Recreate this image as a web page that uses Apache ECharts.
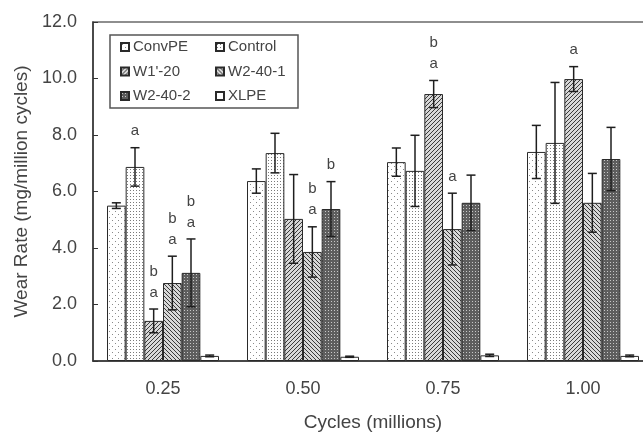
<html>
    <head>
        <meta charset="utf-8">
        <script src="https://cdn.jsdelivr.net/npm/echarts@6/dist/echarts.min.js"></script>
        <style>
            html, body { margin: 0; padding: 0; background: #fff; }
            #main { width: 643px; height: 433px; }
        </style>
    </head>
    <body>
        <div id="main"></div>
        <script>
            var categories = ['0.25', '0.50', '0.75', '1.00'];
            var seriesNames = ['ConvPE', 'Control', "W1'-20", 'W2-40-1', 'W2-40-2', 'XLPE'];

            var convPE = [5.50, 6.37, 7.04, 7.40];
            var control = [6.87, 7.36, 6.73, 7.72];
            var w120 = [1.42, 5.03, 9.45, 9.98];
            var w2401 = [2.76, 3.86, 4.67, 5.60];
            var w2402 = [3.12, 5.38, 5.60, 7.15];
            var xlpe = [0.18, 0.15, 0.20, 0.18];

            var convPEErr = [0.10, 0.43, 0.50, 0.94];
            var controlErr = [0.68, 0.70, 1.26, 2.14];
            var w120Err = [0.42, 1.57, 0.48, 0.44];
            var w2401Err = [0.95, 0.89, 1.27, 1.04];
            var w2402Err = [1.20, 0.97, 0.98, 1.12];
            var xlpeErr = [0.03, 0.02, 0.04, 0.03];

            // significance letters above the error bars
            var convPELetters = ['', '', '', ''];
            var controlLetters = ['a', '', '', ''];
            var w120Letters = ['b\na', '', 'b\na', 'a'];
            var w2401Letters = ['b\na', 'b\na', 'a', ''];
            var w2402Letters = ['b\na', 'b', '', ''];
            var xlpeLetters = ['', '', '', ''];

            var values = [convPE, control, w120, w2401, w2402, xlpe];
            var errors = [convPEErr, controlErr, w120Err, w2401Err, w2402Err, xlpeErr];
            var letters = [convPELetters, controlLetters, w120Letters, w2401Letters, w2402Letters, xlpeLetters];

            var FONT = '"Liberation Sans", Arial, sans-serif';

            function makePattern(kind) {
                var c = document.createElement('canvas');
                var ctx = c.getContext('2d');
                if (kind === 'sparseDots') {
                    c.width = 6; c.height = 6;
                    ctx.fillStyle = '#fff'; ctx.fillRect(0, 0, 6, 6);
                    ctx.fillStyle = '#8a8a8a';
                    ctx.fillRect(1, 1, 1, 1); ctx.fillRect(4, 4, 1, 1);
                } else if (kind === 'denseDots') {
                    c.width = 3; c.height = 3;
                    ctx.fillStyle = '#fff'; ctx.fillRect(0, 0, 3, 3);
                    ctx.fillStyle = '#7a7a7a';
                    ctx.fillRect(1, 1, 1, 1);
                } else if (kind === 'slash' || kind === 'backslash') {
                    c.width = 4; c.height = 4;
                    ctx.fillStyle = '#d8d8d8'; ctx.fillRect(0, 0, 4, 4);
                    ctx.strokeStyle = '#3a3a3a'; ctx.lineWidth = 1;
                    ctx.beginPath();
                    if (kind === 'slash') {
                        ctx.moveTo(-1, 5); ctx.lineTo(5, -1);
                        ctx.moveTo(-1, 1); ctx.lineTo(1, -1);
                        ctx.moveTo(3, 5); ctx.lineTo(5, 3);
                    } else {
                        ctx.moveTo(-1, -1); ctx.lineTo(5, 5);
                        ctx.moveTo(3, -1); ctx.lineTo(5, 1);
                        ctx.moveTo(-1, 3); ctx.lineTo(1, 5);
                    }
                    ctx.stroke();
                } else if (kind === 'checker') {
                    c.width = 3; c.height = 3;
                    ctx.fillStyle = '#5e5e5e'; ctx.fillRect(0, 0, 3, 3);
                    ctx.fillStyle = '#c8c8c8';
                    ctx.fillRect(1, 1, 1, 1);
                } else {
                    c.width = 2; c.height = 2;
                    ctx.fillStyle = '#fff'; ctx.fillRect(0, 0, 2, 2);
                }
                return { image: c, repeat: 'repeat' };
            }

            var patterns = ['sparseDots', 'denseDots', 'slash', 'backslash', 'checker', 'plain'];

            var barCount = seriesNames.length;
            var series = [];

            seriesNames.forEach(function (name, k) {
                series.push({
                    name: name,
                    type: 'bar',
                    data: values[k],
                    barGap: 0,
                    barCategoryGap: '20%',
                    itemStyle: {
                        color: makePattern(patterns[k]),
                        borderColor: '#2a2a2a',
                        borderWidth: 1
                    }
                });
            });

            seriesNames.forEach(function (name, k) {
                series.push({
                    type: 'custom',
                    z: 5,
                    silent: true,
                    data: values[k].map(function (v, i) {
                        return [i, v - errors[k][i], v + errors[k][i]];
                    }),
                    renderItem: function (params, api) {
                        var i = api.value(0);
                        var band = api.size([1, 0])[0];
                        var barW = band * 0.8 / barCount;
                        var dx = -band * 0.4 + (k + 0.5) * barW;
                        var lo = api.coord([i, api.value(1)]);
                        var hi = api.coord([i, api.value(2)]);
                        var x = lo[0] + dx;
                        var cap = 4.5;
                        var style = { stroke: '#1e1e1e', lineWidth: 1.5 };
                        var children = [
                            { type: 'line', shape: { x1: x, y1: lo[1], x2: x, y2: hi[1] }, style: style },
                            { type: 'line', shape: { x1: x - cap, y1: hi[1], x2: x + cap, y2: hi[1] }, style: style },
                            { type: 'line', shape: { x1: x - cap, y1: lo[1], x2: x + cap, y2: lo[1] }, style: style }
                        ];
                        var txt = letters[k][params.dataIndex];
                        if (txt) {
                            children.push({
                                type: 'text',
                                style: {
                                    text: txt,
                                    x: x,
                                    y: hi[1] - 6,
                                    align: 'center',
                                    verticalAlign: 'bottom',
                                    font: '15px ' + FONT,
                                    lineHeight: 21,
                                    fill: '#444'
                                }
                            });
                        }
                        return { type: 'group', children: children };
                    }
                });
            });

            var chart = echarts.init(document.getElementById('main'), null, { renderer: 'canvas' });

            chart.setOption({
                animation: false,
                grid: {
                    left: 93,
                    right: -10,
                    top: 22,
                    bottom: 72,
                    outerBoundsMode: 'none',
                    containLabel: false,
                    show: true,
                    borderColor: '#6a6a6a',
                    borderWidth: 1.5,
                    backgroundColor: 'transparent'
                },
                legend: [{
                    orient: 'vertical',
                    left: 120,
                    top: 39,
                    padding: 0,
                    itemGap: 8.5,
                    itemWidth: 8,
                    itemHeight: 8,
                    icon: 'rect',
                    data: ['ConvPE', "W1'-20", 'W2-40-2'],
                    textStyle: { fontFamily: FONT, fontSize: 15, color: '#444', lineHeight: 16, padding: [0, 0, 0, -1] }
                }, {
                    orient: 'vertical',
                    left: 215,
                    top: 39,
                    padding: 0,
                    itemGap: 8.5,
                    itemWidth: 8,
                    itemHeight: 8,
                    icon: 'rect',
                    data: ['Control', 'W2-40-1', 'XLPE'],
                    textStyle: { fontFamily: FONT, fontSize: 15, color: '#444', lineHeight: 16, padding: [0, 0, 0, -1] }
                }],
                graphic: [{
                    type: 'rect',
                    shape: { x: 110, y: 35, width: 188, height: 73 },
                    style: { fill: 'none', stroke: '#555', lineWidth: 1.5 },
                    z: 10
                }],
                xAxis: {
                    type: 'category',
                    data: categories,
                    name: 'Cycles (millions)',
                    nameLocation: 'middle',
                    nameGap: 52,
                    nameTextStyle: { fontFamily: FONT, fontSize: 19, color: '#444' },
                    axisLine: { lineStyle: { color: '#333', width: 1.5 } },
                    axisTick: { inside: true, length: 6, lineStyle: { color: '#333' } },
                    axisLabel: { fontFamily: FONT, fontSize: 18, color: '#444', margin: 19 }
                },
                yAxis: {
                    type: 'value',
                    min: 0,
                    max: 12,
                    interval: 2,
                    name: 'Wear Rate (mg/million cycles)',
                    nameLocation: 'middle',
                    nameGap: 62,
                    nameTextStyle: { fontFamily: FONT, fontSize: 19, color: '#444' },
                    axisLine: { show: true, lineStyle: { color: '#333', width: 1.5 } },
                    axisTick: { show: true, inside: true, length: 5, lineStyle: { color: '#333' } },
                    splitLine: { show: false },
                    axisLabel: {
                        fontFamily: FONT, fontSize: 18, color: '#444', margin: 16,
                        formatter: function (v) { return v.toFixed(1); }
                    }
                },
                series: series
            });
        </script>
    </body>
</html>
